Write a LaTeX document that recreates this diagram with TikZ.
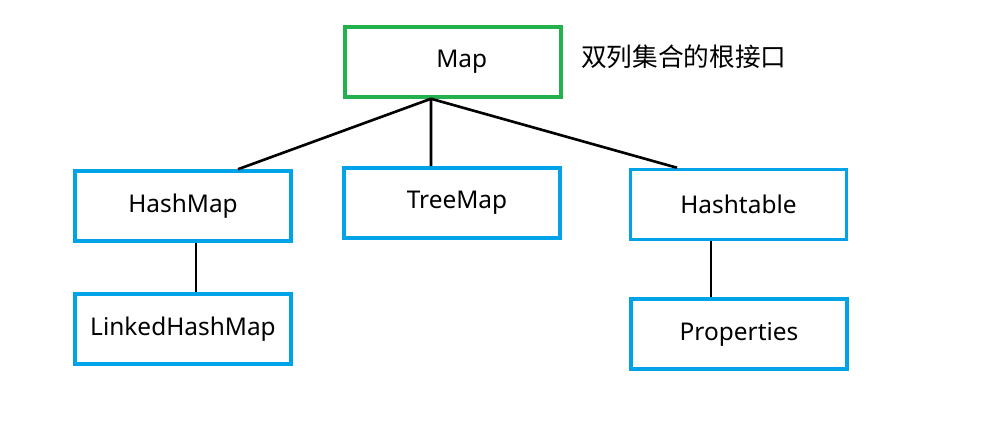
\documentclass[tikz,border=0pt]{standalone}
\usepackage{fontspec}
\setmainfont{Noto Sans}
\newfontfamily\cjk{Noto Sans CJK SC}
\definecolor{rootgreen}{RGB}{34,177,76}
\definecolor{implblue}{RGB}{0,162,232}
\tikzset{
  mapbox/.style={draw=rootgreen,line width=2pt,minimum width=4.32cm,minimum height=1.4cm,inner sep=0pt},
  implbox/.style={draw=implblue,line width=2pt,minimum width=4.32cm,minimum height=1.4cm,inner sep=0pt},
  edge/.style={line width=1.5pt}
}
\begin{document}
\begin{tikzpicture}[text centered,font=\fontsize{13.9}{16}\selectfont]
    \useasboundingbox (0,0) rectangle (19.8,-8.46);

    \node [mapbox] (map) at (9.06,-1.24) {\hspace{0.35cm}Map};
    \node [anchor=west,font=\fontsize{14.6}{17}\selectfont] (note) at (11.5,-1.14) {\cjk 双列集合的根接口};

    \node [implbox] (hashmap) at (3.66,-4.12) {HashMap};
    \node [implbox] (treemap) at (9.04,-4.06) {\hspace{0.2cm}TreeMap};
    \node [implbox] (hashtable) at (14.77,-4.09) {Hashtable};
    \node [implbox] (linked) at (3.66,-6.58) {LinkedHashMap};
    \node [implbox] (props) at (14.78,-6.68) {Properties};

%    root lines
    \draw [edge] ([xshift=-0.44cm]map.south) -- ([xshift=1.1cm]hashmap.north);
    \draw [edge] ([xshift=-0.44cm]map.south) -- ([xshift=-0.42cm]treemap.north);
    \draw [edge] ([xshift=-0.44cm]map.south) -- ([xshift=-1.23cm]hashtable.north);

    \draw [edge] ([xshift=0.26cm]hashmap.south) -- ([xshift=0.26cm]linked.north);
    \draw [edge] ([xshift=-0.55cm]hashtable.south) -- ([xshift=-0.56cm]props.north);
\end{tikzpicture}
\end{document}
